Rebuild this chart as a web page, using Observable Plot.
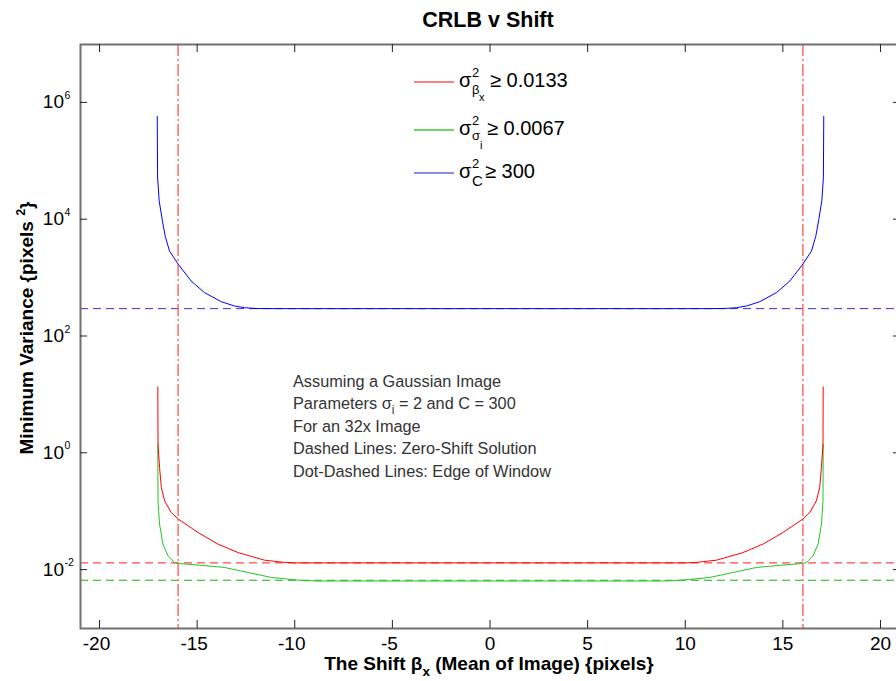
<!DOCTYPE html>
<html><head><meta charset="utf-8">
<script src="https://cdn.jsdelivr.net/npm/d3@7"></script>
<script src="https://cdn.jsdelivr.net/npm/@observablehq/plot@0.6"></script>
<style>html,body{margin:0;padding:0;background:#fff;overflow:hidden}</style>
</head><body><div id="chart"></div>
<script>
// ---- data ----
const xTicks = [-20, -15, -10, -5, 0, 5, 10, 15, 20];
const xTickLabels = ["-20", "-15", "-10", "-5", "0", "5", "10", "15", "20"];
const yTicks = [1e-2, 1, 1e2, 1e4, 1e6];
const yTickExps = ["-2", "0", "2", "4", "6"];
const windowEdges = [-16, 16];
const zeroShiftRed = [0.0133];
const zeroShiftGreen = [0.0067];
const zeroShiftBlue = [300];

const redX = [-17.04,-17.03,-16.95,-16.86,-16.69,-16.35,-15.99,-14.98,-13.96,-12.94,-11.58,-10.6,-10.0,0,10.0,10.6,11.58,12.94,13.96,14.98,15.99,16.35,16.69,16.86,16.95,17.03,17.04];
const redY = [13.7,1.43,0.57,0.259,0.153,0.0966,0.0746,0.044,0.0279,0.020,0.0148,0.0136,0.0133,0.0133,0.0133,0.0136,0.0148,0.020,0.0279,0.044,0.0746,0.0966,0.153,0.259,0.57,1.43,13.7];

const greenX = [-17.04,-17.03,-16.95,-16.78,-16.52,-16.18,-15.99,-14.98,-13.62,-12.43,-11.23,-10.2,-9.5,-8.8,0,8.8,9.5,10.2,11.23,12.43,13.62,14.98,15.99,16.18,16.52,16.78,16.95,17.03,17.04];
const greenY = [1.43,0.153,0.0612,0.0279,0.0176,0.0135,0.0130,0.0122,0.0111,0.0091,0.0075,0.0069,0.0066,0.0065,0.0065,0.0065,0.0066,0.0069,0.0075,0.0091,0.0111,0.0122,0.0130,0.0135,0.0176,0.0279,0.0612,0.153,1.43];

const blueX = [-17.07,-17.05,-16.97,-16.81,-16.66,-16.44,-15.99,-15.33,-14.65,-13.79,-13.11,-12.6,-12.0,-11.0,0,11.0,12.0,12.6,13.11,13.79,14.65,15.33,15.99,16.44,16.66,16.81,16.97,17.05,17.07];
const blueY = [5.9e5,5.2e4,2.1e4,9800,5200,2900,1720,890,565,394,333,311,302,300,300,300,302,311,333,394,565,890,1720,2900,5200,9800,2.1e4,5.2e4,5.9e5];

(function () {
const toRows = (xs, ys) => xs.map((x, i) => ({x, y: ys[i]}));
const redData = toRows(redX, redY);
const greenData = toRows(greenX, greenY);
const blueData = toRows(blueX, blueY);

const FONT = "'Liberation Sans', Arial, Helvetica, sans-serif";

const svg = Plot.plot({
  width: 896,
  height: 681,
  marginLeft: 80,
  marginRight: -4,
  marginTop: 44,
  marginBottom: 53,
  style: {fontFamily: FONT, background: "#fff", overflow: "hidden"},
  x: {domain: [-21, 21], axis: null},
  y: {type: "log", domain: [1e-3, 1e7], axis: null},
  marks: [
    Plot.ruleY(zeroShiftBlue, {stroke: "#3535c8", strokeWidth: 1, strokeDasharray: "8,5"}),
    Plot.ruleY(zeroShiftRed, {stroke: "#ff4a4a", strokeWidth: 1.2, strokeDasharray: "8,5"}),
    Plot.ruleY(zeroShiftGreen, {stroke: "#10b810", strokeWidth: 1.2, strokeDasharray: "8,5"}),
    Plot.ruleX(windowEdges, {stroke: "#ff6a6a", strokeWidth: 1.5, strokeDasharray: "12,3,2,3"}),
    Plot.line(blueData, {x: "x", y: "y", stroke: "#0000ff", strokeWidth: 1}),
    Plot.line(greenData, {x: "x", y: "y", stroke: "#22c522", strokeWidth: 1}),
    Plot.line(redData, {x: "x", y: "y", stroke: "#ff0000", strokeWidth: 1}),
    Plot.frame({stroke: "#707070", strokeWidth: 2})
  ]
});
document.getElementById("chart").appendChild(svg);

const sx = svg.scale("x"), sy = svg.scale("y");
const X = v => sx.apply(v), Y = v => sy.apply(v);
const [fLeft, fRight] = sx.range;
const [fBottom, fTop] = sy.range;
const s = d3.select(svg);
const g = s.append("g").attr("font-family", FONT).attr("text-anchor", "start");

// ticks (inward on all four sides)
const tk = g.append("g").attr("stroke", "#222").attr("stroke-width", 1);
xTicks.forEach(v => {
  tk.append("line").attr("x1", X(v)).attr("x2", X(v)).attr("y1", fBottom).attr("y2", fBottom - 8);
  tk.append("line").attr("x1", X(v)).attr("x2", X(v)).attr("y1", fTop).attr("y2", fTop + 8);
});
yTicks.forEach(v => {
  tk.append("line").attr("x1", fLeft).attr("x2", fLeft + 7).attr("y1", Y(v)).attr("y2", Y(v));
  tk.append("line").attr("x1", fRight).attr("x2", fRight - 7).attr("y1", Y(v)).attr("y2", Y(v));
});

// x tick labels
xTicks.forEach((v, i) => {
  const lab = xTickLabels[i];
  g.append("text").attr("x", X(v) + (lab.startsWith("-") ? -3 : 0)).attr("y", fBottom + 22)
    .attr("text-anchor", "middle").attr("font-size", 19).attr("fill", "#000").text(lab);
});
// y tick labels 10^k
yTicks.forEach((v, i) => {
  g.append("text").attr("x", fLeft - 16).attr("y", Y(v) + 6)
    .attr("text-anchor", "end").attr("font-size", 19).attr("fill", "#000").text("10");
  g.append("text").attr("x", fLeft - 15.5).attr("y", Y(v) - 3.5)
    .attr("text-anchor", "start").attr("font-size", 10.5).attr("fill", "#000").text(yTickExps[i]);
});

// title
g.append("text").attr("x", (fLeft + fRight) / 2 - 2).attr("y", 27).attr("text-anchor", "middle")
  .attr("font-size", 21.5).attr("font-weight", "bold").attr("fill", "#000").text("CRLB v Shift");

// x label
const xl = g.append("text").attr("x", (fLeft + fRight) / 2 - 1).attr("y", 670).attr("text-anchor", "middle")
  .attr("font-size", 19).attr("font-weight", "bold").attr("fill", "#000");
xl.append("tspan").text("The Shift \u03B2");
xl.append("tspan").attr("dy", 6).attr("font-size", 13.5).text("x");
xl.append("tspan").attr("dy", -6).text(" (Mean of Image) {pixels}");

// y label
const yl = g.append("text").attr("transform", `translate(33,${(fTop + fBottom) / 2 - 8}) rotate(-90)`)
  .attr("text-anchor", "middle").attr("font-size", 19).attr("font-weight", "bold").attr("fill", "#000");
yl.append("tspan").text("Minimum Variance {pixels ");
yl.append("tspan").attr("dy", -8).attr("font-size", 12.5).text("2");
yl.append("tspan").attr("dy", 8).text("}");

// legend
const legend = [
  {color: "#ff0000", w: 1, ly: 82, base: 87, sub: "\u03B2", subY: 94, subsub: "x", subsubX: 479, subsubY: 101, rel: "\u2265 0.0133", relX: 490},
  {color: "#6ad66a", w: 2, ly: 130, base: 135, sub: "\u03C3", subY: 140, subsub: "i", subsubX: 480, subsubY: 149, rel: "\u2265 0.0067", relX: 487},
  {color: "#1a1acc", w: 1, ly: 173, base: 178, sub: "C", subY: 186, subsub: "", subsubX: 0, subsubY: 0, rel: "\u2265 300", relX: 485}
];
const lg = g.append("g").attr("fill", "#000").attr("text-anchor", "start");
legend.forEach(d => {
  lg.append("line").attr("x1", 414).attr("x2", 454).attr("y1", d.ly).attr("y2", d.ly)
    .attr("stroke", d.color).attr("stroke-width", d.w);
  lg.append("text").attr("x", 459).attr("y", d.base).attr("font-size", 20).text("\u03C3");
  lg.append("text").attr("x", 472).attr("y", d.base - 10).attr("font-size", 13).text("2");
  lg.append("text").attr("x", 472).attr("y", d.subY).attr("font-size", d.sub === "C" ? 15 : 13).text(d.sub);
  if (d.subsub) lg.append("text").attr("x", d.subsubX).attr("y", d.subsubY).attr("font-size", 11).text(d.subsub);
  lg.append("text").attr("x", d.relX).attr("y", d.base).attr("font-size", 20).text(d.rel);
});

// annotation
const notes = [
  ["Assuming a Gaussian Image"],
  ["Parameters \u03C3", "i", " = 2 and C = 300"],
  ["For an 32x Image"],
  ["Dashed Lines: Zero-Shift Solution"],
  ["Dot-Dashed Lines: Edge of Window"]
];
const nb = [386.5, 409, 431.5, 454, 476.5];
notes.forEach((parts, i) => {
  const t = g.append("text").attr("x", 293).attr("y", nb[i]).attr("text-anchor", "start")
    .attr("font-size", 16.3).attr("fill", "#333");
  t.append("tspan").text(parts[0]);
  if (parts.length > 1) {
    t.append("tspan").attr("dy", 5).attr("font-size", 12).text(parts[1]);
    t.append("tspan").attr("dy", -5).text(parts[2]);
  }
});
})();
</script>
</body></html>
